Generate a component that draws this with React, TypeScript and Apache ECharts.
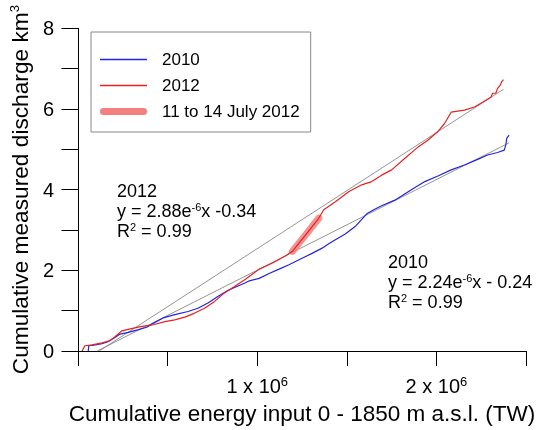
import React, { useEffect, useRef } from 'react';
import * as echarts from 'echarts';

// Cumulative energy input (TW), in units of 1e6
const energy2010 = [0.057, 0.060, 0.097, 0.134, 0.171, 0.208, 0.235, 0.281, 0.337, 0.383, 0.429, 0.475, 0.540, 0.614, 0.669, 0.725, 0.780, 0.835, 0.928, 0.956, 1.011, 1.066, 1.122, 1.177, 1.25, 1.306, 1.362, 1.399, 1.436, 1.491, 1.55, 1.611, 1.65, 1.694, 1.768, 1.860, 1.935, 2.008, 2.082, 2.156, 2.230, 2.285, 2.341, 2.378, 2.387, 2.392, 2.405];
// Cumulative measured discharge (km3)
const discharge2010 = [0, 0.13, 0.15, 0.18, 0.24, 0.34, 0.42, 0.46, 0.53, 0.59, 0.71, 0.82, 0.90, 0.98, 1.06, 1.19, 1.35, 1.50, 1.68, 1.74, 1.80, 1.92, 2.03, 2.14, 2.30, 2.42, 2.55, 2.66, 2.76, 2.90, 3.10, 3.40, 3.50, 3.60, 3.74, 4.00, 4.20, 4.34, 4.49, 4.61, 4.75, 4.86, 4.92, 4.98, 5.11, 5.27, 5.35];

const energy2012 = [0.023, 0.038, 0.079, 0.134, 0.180, 0.208, 0.245, 0.291, 0.356, 0.420, 0.485, 0.540, 0.596, 0.651, 0.706, 0.762, 0.817, 0.873, 0.928, 1.011, 1.085, 1.159, 1.196, 1.27, 1.343, 1.371, 1.436, 1.510, 1.583, 1.639, 1.694, 1.750, 1.824, 1.898, 1.953, 2.008, 2.045, 2.082, 2.156, 2.212, 2.248, 2.285, 2.304, 2.313, 2.331, 2.341, 2.356, 2.363, 2.374];
const discharge2012 = [0, 0.13, 0.15, 0.20, 0.26, 0.36, 0.50, 0.55, 0.61, 0.65, 0.73, 0.77, 0.84, 0.94, 1.06, 1.23, 1.44, 1.60, 1.76, 2.03, 2.18, 2.36, 2.47, 2.88, 3.29, 3.50, 3.70, 3.95, 4.12, 4.20, 4.36, 4.49, 4.78, 5.06, 5.23, 5.44, 5.64, 5.92, 5.97, 6.05, 6.14, 6.24, 6.29, 6.39, 6.39, 6.51, 6.59, 6.67, 6.73];

const energyJuly = [1.196, 1.27, 1.343];
const dischargeJuly = [2.47, 2.88, 3.29];

// Regression lines (end points)
const fit2012X = [0.118, 2.374];
const fit2012Y = [0, 6.49];
const fit2010X = [0.107, 2.405];
const fit2010Y = [0, 5.16];

const xTickLabels = [1, 2];
const yTickLabels = [0, 2, 4, 6, 8];

const FONT = '"Liberation Sans", Arial, Helvetica, sans-serif';
const C2010 = '#2323e0';
const C2012 = '#e52222';
const CJULY = '#f37f7f';

const zip = (xs: number[], ys: number[]) => xs.map((x, i) => [x, ys[i]]);

export default function App() {
  const ref = useRef<HTMLDivElement>(null);
  useEffect(() => {
    const chart = echarts.init(ref.current!, null, { renderer: 'svg' });
    const option: any = {
      animation: false,
      textStyle: { fontFamily: FONT },
      grid: { left: 77.5, right: 8.5, top: 28.3, bottom: 78.7 },
      xAxis: {
        type: 'value',
        min: 0,
        max: 2.5,
        interval: 0.5,
        axisLine: { show: true, onZero: false, lineStyle: { color: '#000', width: 1 } },
        axisTick: { show: true, length: 15, lineStyle: { color: '#000', width: 1 } },
        splitLine: { show: false },
        axisLabel: {
          margin: 24,
          formatter: (v: number) => (xTickLabels.includes(v) ? `{a|${v} x 10}{s|6}` : ''),
          rich: {
            a: { fontSize: 20, lineHeight: 22, color: '#000', fontFamily: FONT },
            s: { fontSize: 13, lineHeight: 13, verticalAlign: 'top', color: '#000', fontFamily: FONT },
          },
        },
        name: 'Cumulative energy input 0 - 1850 m a.s.l. (TW)',
        nameLocation: 'middle',
        nameGap: 50,
        nameTextStyle: { fontSize: 22.5, lineHeight: 24, color: '#000', fontFamily: FONT },
      },
      yAxis: {
        type: 'value',
        min: 0,
        max: 8,
        interval: 1,
        axisLine: { show: true, lineStyle: { color: '#000', width: 1 } },
        axisTick: { show: true, length: 16.5, lineStyle: { color: '#000', width: 1 } },
        splitLine: { show: false },
        axisLabel: {
          margin: 24,
          fontSize: 20,
          color: '#000',
          fontFamily: FONT,
          formatter: (v: number) => (yTickLabels.includes(v) ? String(v) : ''),
        },
        name: 'Cumulative measured discharge km{s|3}',
        nameLocation: 'middle',
        nameRotate: 90,
        nameGap: 44,
        nameTextStyle: {
          fontSize: 22.7,
          lineHeight: 24,
          color: '#000',
          fontFamily: FONT,
          rich: { s: { fontSize: 13, lineHeight: 13, verticalAlign: 'top', color: '#000', fontFamily: FONT } },
        },
      },
      legend: {
        orient: 'vertical',
        left: 91,
        top: 32,
        padding: [19, 11, 12, 9],
        itemWidth: 47,
        itemHeight: 14,
        itemGap: 9,
        borderColor: '#888',
        borderWidth: 1,
        borderRadius: 0,
        selectedMode: false,
        itemStyle: { borderWidth: 0 },
        textStyle: { fontSize: 17, color: '#000', fontFamily: FONT, padding: [0, 0, 0, 10], lineHeight: 14 },
        data: [
          { name: '2010', icon: 'path://M0,0H47V1.3H0Z', itemStyle: { color: C2010, borderWidth: 0 } },
          { name: '2012', icon: 'path://M0,0H47V1.3H0Z', itemStyle: { color: C2012, borderWidth: 0 } },
          {
            name: '11 to 14 July 2012',
            icon: 'path://M3.5,0H43.5A3.5,3.5,0,0,1,43.5,7H3.5A3.5,3.5,0,0,1,3.5,0Z',
            itemStyle: { color: CJULY, borderWidth: 0 },
          },
        ],
      },
      series: [
        {
          type: 'line', name: 'fit 2012', data: zip(fit2012X, fit2012Y), symbol: 'none', silent: true,
          color: '#7a7a7a', lineStyle: { color: '#7a7a7a', width: 0.8 }, z: 1,
        },
        {
          type: 'line', name: 'fit 2010', data: zip(fit2010X, fit2010Y), symbol: 'none', silent: true,
          color: '#7a7a7a', lineStyle: { color: '#7a7a7a', width: 0.8 }, z: 1,
        },
        {
          type: 'line', name: '11 to 14 July 2012', data: zip(energyJuly, dischargeJuly), symbol: 'none', silent: true,
          color: CJULY, lineStyle: { color: CJULY, width: 7, cap: 'round', opacity: 0.85 }, z: 2,
        },
        {
          type: 'line', name: '2010', data: zip(energy2010, discharge2010), symbol: 'none', silent: true,
          color: C2010, lineStyle: { color: C2010, width: 1.2 }, z: 3,
        },
        {
          type: 'line', name: '2012', data: zip(energy2012, discharge2012), symbol: 'none', silent: true,
          color: C2012, lineStyle: { color: C2012, width: 1.2 }, z: 4,
        },
      ],
      graphic: [
        {
          type: 'text', left: 117, top: 182, silent: true,
          style: {
            text: '{n|2012}\n{n|y = 2.88e}{s|-6}{n|x -0.34}\n{n|R}{s|2}{n| = 0.99}',
            rich: {
              n: { fontSize: 18, lineHeight: 20, fontFamily: FONT, fill: '#000' },
              s: { fontSize: 11, lineHeight: 12, verticalAlign: 'top', fontFamily: FONT, fill: '#000' },
            },
          },
        },
        {
          type: 'text', left: 388, top: 253, silent: true,
          style: {
            text: '{n|2010}\n{n|y = 2.24e}{s|-6}{n|x - 0.24}\n{n|R}{s|2}{n| = 0.99}',
            rich: {
              n: { fontSize: 18, lineHeight: 20, fontFamily: FONT, fill: '#000' },
              s: { fontSize: 11, lineHeight: 12, verticalAlign: 'top', fontFamily: FONT, fill: '#000' },
            },
          },
        },
      ],
    };
    chart.setOption(option);
    return () => chart.dispose();
  }, []);
  return <div ref={ref} style={{ position: 'fixed', left: 0, top: 0, width: 538, height: 430 }} />;
}
